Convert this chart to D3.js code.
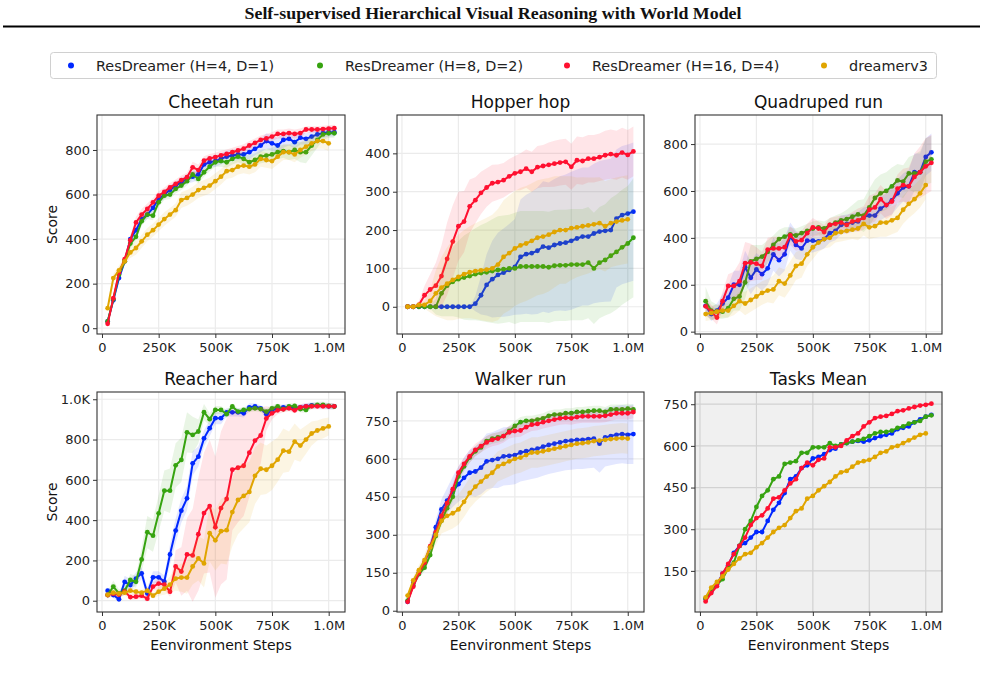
<!DOCTYPE html>
<html><head><meta charset="utf-8">
<script src="https://cdn.jsdelivr.net/npm/d3@7"></script>
<style>body{margin:0;background:#fff;} svg{display:block;font-family:"DejaVu Sans",sans-serif;}</style>
</head><body><svg id="chart" width="985" height="695"></svg>
<script>
// ---------------- DATA ----------------
const steps = [25000,50000,75000,100000,125000,150000,175000,200000,225000,250000,275000,300000,325000,350000,375000,400000,425000,450000,475000,500000,525000,550000,575000,600000,625000,650000,675000,700000,725000,750000,775000,800000,825000,850000,875000,900000,925000,950000,975000,1000000,1025000];
const seriesNames = ["ResDreamer (H=4, D=1)","ResDreamer (H=8, D=2)","ResDreamer (H=16, D=4)","dreamerv3"];
const seriesColors = ["#0028ff","#36a310","#ff1030","#e0a500"];
const panelTitles = ["Cheetah run","Hopper hop","Quadruped run","Reacher hard","Walker run","Tasks Mean"];
const xTickValues = [0,250000,500000,750000,1000000];
const xTickLabels = ["0","250K","500K","750K","1.0M"];

// Cheetah run
const cheetahBlue  = [30,125,225,300,400,440,490,510,540,580,600,620,640,655,670,680,690,735,745,750,760,770,775,780,780,790,805,820,840,830,820,845,850,835,855,850,860,870,875,880,880];
const cheetahGreen = [30,130,240,300,380,410,480,510,505,565,595,600,625,640,660,690,670,700,725,745,750,745,760,770,760,745,755,770,775,780,790,795,790,800,790,790,820,845,870,875,875];
const cheetahRed   = [20,135,250,310,395,475,510,535,565,595,612,632,648,665,678,722,710,752,762,768,776,782,790,798,806,820,832,845,852,860,872,872,876,872,876,892,892,892,894,896,898];
const cheetahGold  = [90,225,260,300,340,360,390,420,440,465,490,510,530,575,585,600,620,630,640,660,680,705,710,725,730,725,735,760,755,750,770,790,790,780,800,815,830,840,840,830];
const cheetahBlueSd  = [10,15,15,15,20,20,20,20,20,20,20,20,20,20,20,25,25,25,25,25,25,25,25,25,25,30,30,30,35,35,35,35,30,30,30,25,25,25,20,20,20];
const cheetahGreenSd = [10,15,15,15,20,20,20,20,20,20,20,20,20,20,20,20,20,20,20,20,25,25,25,25,25,30,30,30,30,30,30,30,35,40,45,50,45,35,25,20,20];
const cheetahRedSd   = [10,15,15,15,20,25,25,25,20,20,20,20,20,20,20,25,25,20,20,20,20,20,20,20,20,20,20,20,20,20,20,20,20,20,20,15,15,15,15,15,15];
const cheetahGoldSd  = [15,20,20,20,25,30,30,30,30,30,30,30,30,35,35,35,35,35,35,35,35,35,35,35,35,35,35,35,35,35,35,35,35,35,35,35,35,35,35,35];

// Hopper hop
const hopperBlue  = [0,0,0,0,0,0,0,0,0,0,0,0,8,30,57,72,83,89,96,104,130,137,140,146,157,154,161,165,167,172,178,183,183,191,196,198,200,230,239,243,248];
const hopperGreen = [0,0,0,0,0,0,35,55,65,72,76,80,85,88,90,93,96,98,100,100,105,105,105,105,105,103,107,108,108,110,110,110,115,100,115,122,133,143,155,165,180];
const hopperRed   = [0,0,5,30,45,55,80,125,170,210,222,262,278,297,311,322,325,330,340,348,352,360,352,364,367,370,373,376,378,365,382,380,386,386,390,395,398,395,402,396,405];
const hopperGold  = [0,0,5,5,15,35,50,60,70,78,85,90,93,95,97,100,110,130,140,152,160,165,172,180,183,188,195,200,200,205,207,210,212,215,218,210,218,222,225,228];
const hopperBlueSd  = [0,0,0,0,0,0,0,0,0,0,0,0,20,50,80,100,110,115,120,125,150,155,160,165,170,170,172,175,178,180,180,180,180,182,184,185,186,180,180,180,180];
const hopperGreenSd = [0,0,0,0,5,20,60,80,90,100,110,115,120,125,130,135,140,140,140,145,145,145,145,145,145,145,145,145,145,145,145,145,145,145,145,145,150,150,150,150,155];
const hopperRedSd   = [0,0,10,25,40,60,80,95,95,90,80,70,60,55,50,48,46,45,45,45,48,50,52,55,55,58,60,60,60,60,62,62,62,62,62,64,64,64,65,65,65];
const hopperGoldSd  = [0,0,5,10,30,60,80,95,105,110,115,120,125,130,135,140,145,148,150,150,150,150,150,150,150,148,145,140,140,135,130,128,125,122,120,118,115,115,115,115];

// Quadruped run
const quadBlue  = [110,75,90,120,145,200,200,275,230,265,245,270,330,305,330,405,370,355,388,388,385,395,420,430,455,460,465,470,490,495,495,525,540,560,590,615,620,680,680,745,765];
const quadGreen = [130,90,85,85,100,140,150,210,300,310,320,340,370,395,405,415,410,420,430,440,445,440,455,465,475,480,490,500,495,530,570,590,600,620,645,640,675,675,680,725,735];
const quadRed   = [108,85,60,130,195,195,215,292,295,290,280,350,355,355,360,410,385,390,420,445,440,425,455,460,465,455,470,475,485,520,530,565,540,555,610,625,620,660,680,705,720];
const quadGold  = [75,80,85,90,90,110,130,120,135,150,165,175,180,215,205,240,280,290,330,360,380,395,400,420,425,430,435,440,460,445,450,465,465,475,485,520,545,565,590,625];
const quadBlueSd  = [30,30,30,40,50,60,60,70,70,70,70,70,70,70,70,60,60,50,50,50,40,40,40,40,40,40,40,40,40,40,40,50,50,60,60,60,70,80,80,80,80];
const quadGreenSd = [60,40,30,30,40,50,60,70,70,60,50,50,40,40,40,30,30,30,30,30,30,30,30,30,30,40,50,60,70,80,80,80,80,80,70,70,70,80,90,100,100];
const quadRedSd   = [40,30,30,40,50,60,80,90,80,70,60,50,50,50,40,40,40,40,40,40,30,30,30,30,30,40,40,50,50,60,60,60,60,60,60,70,80,100,110,120,120];
const quadGoldSd  = [30,30,30,30,30,40,40,50,50,50,50,50,60,60,60,60,60,60,50,50,40,40,40,40,40,40,40,50,50,50,50,60,60,60,60,60,60,60,60,60];

// Reacher hard
const reacherBlue  = [50,28,7,94,78,110,136,36,116,116,95,230,348,447,508,682,715,806,856,906,906,935,935,935,930,960,965,955,925,945,955,960,960,955,960,965,970,968,968,965,965];
const reacherGreen = [28,70,36,50,103,94,205,340,323,434,546,546,672,699,836,823,840,936,901,947,947,926,964,939,947,951,955,951,939,955,964,951,964,967,951,947,967,972,972,967,964];
const reacherRed   = [28,35,30,45,18,20,25,10,70,85,80,45,170,145,230,225,330,435,470,365,460,505,650,660,670,735,795,820,905,930,945,950,955,945,960,965,965,965,965,965,965];
const reacherGold  = [30,40,35,40,50,45,40,50,25,45,60,80,110,115,115,170,210,185,335,300,345,350,440,500,520,540,620,655,650,670,700,745,740,790,770,800,830,845,855,865];
const reacherBlueSd  = [15,15,15,30,30,30,30,30,30,30,30,50,60,60,60,60,50,40,40,30,30,20,20,20,20,20,15,15,20,20,15,15,15,15,15,15,15,15,15,15,15];
const reacherGreenSd = [20,30,20,20,30,30,60,80,80,90,100,110,110,110,100,90,60,40,30,20,20,20,15,15,15,15,15,15,15,15,15,15,15,15,15,15,15,15,15,15,15];
const reacherRedSd   = [15,15,15,15,15,15,15,15,20,25,25,25,80,120,180,230,280,300,330,350,380,400,300,270,250,220,170,140,60,30,20,15,15,15,15,15,15,15,15,15,15];
const reacherGoldSd  = [15,15,15,15,15,15,15,15,15,20,30,40,60,70,80,90,110,120,140,150,160,170,170,170,160,150,140,130,120,120,110,110,100,90,80,70,60,50,50,45];

// Walker run
const walkerBlue  = [35,110,150,190,250,330,400,435,470,500,525,545,550,565,590,595,600,610,612,615,625,630,635,640,648,655,660,665,670,672,675,675,678,680,660,685,690,695,698,695,698];
const walkerGreen = [40,100,145,170,220,295,355,405,450,530,570,605,630,645,670,680,685,690,710,730,745,750,750,755,760,770,775,775,780,780,785,785,788,790,790,785,795,795,795,798,795];
const walkerRed   = [35,95,150,190,255,310,375,425,480,545,580,610,635,650,665,675,680,690,705,710,712,725,735,738,745,750,755,760,762,760,765,768,768,768,768,770,775,780,780,780,785];
const walkerGold  = [60,120,160,200,250,300,355,375,385,400,430,465,490,510,530,545,570,580,590,600,605,615,625,625,630,635,640,645,650,655,660,662,665,670,672,675,678,680,682,680];
const walkerBlueSd  = [10,15,20,20,25,30,40,50,60,70,80,90,100,105,110,110,115,115,115,115,115,115,115,115,115,115,115,115,115,115,115,115,115,115,115,115,115,115,115,115,118];
const walkerGreenSd = [10,10,15,15,15,20,20,20,20,20,20,20,20,20,20,20,20,20,20,20,20,20,20,20,20,20,20,20,20,20,20,20,20,20,20,20,20,20,20,20,20];
const walkerRedSd   = [10,10,15,15,20,20,25,25,25,25,25,25,25,25,25,25,25,25,25,25,25,25,25,25,25,25,25,25,25,25,25,25,25,25,25,25,25,25,25,25,25];
const walkerGoldSd  = [10,15,20,25,30,40,50,60,60,60,60,60,60,60,60,60,60,60,60,60,60,60,60,60,60,60,60,60,60,60,60,60,60,60,60,60,60,60,60,60];

// Tasks Mean
const meanBlue  = [50,75,100,140,170,215,240,250,270,290,290,330,370,395,430,480,490,520,530,555,560,570,585,590,605,610,615,618,615,620,628,635,640,645,660,665,670,685,695,705,712];
const meanGreen = [50,80,100,120,160,180,240,300,330,380,420,440,480,490,535,540,545,575,575,595,595,595,610,600,605,610,615,620,625,635,645,650,650,655,665,670,680,685,690,705,710];
const meanRed   = [40,70,95,140,175,210,240,270,315,340,350,375,410,415,440,465,480,520,540,530,550,555,595,595,600,620,635,645,670,685,700,705,708,715,725,728,735,740,745,748,752];
const meanGold  = [55,90,110,130,155,175,195,210,215,235,250,270,290,305,315,340,365,375,410,420,440,455,470,490,505,510,525,540,545,550,560,575,580,595,600,610,620,630,640,645];

// ---------------- PANELS ----------------
const panels = [
  {title: panelTitles[0], col:0, row:0, yDomain:[-26,957], yTicks:[0,200,400,600,800],
   series:[cheetahBlue,cheetahGreen,cheetahRed,cheetahGold], sd:[cheetahBlueSd,cheetahGreenSd,cheetahRedSd,cheetahGoldSd]},
  {title: panelTitles[1], col:1, row:0, yDomain:[-71,500], yTicks:[0,100,200,300,400],
   series:[hopperBlue,hopperGreen,hopperRed,hopperGold], sd:[hopperBlueSd,hopperGreenSd,hopperRedSd,hopperGoldSd]},
  {title: panelTitles[2], col:2, row:0, yDomain:[-10,924], yTicks:[0,200,400,600,800],
   series:[quadBlue,quadGreen,quadRed,quadGold], sd:[quadBlueSd,quadGreenSd,quadRedSd,quadGoldSd]},
  {title: panelTitles[3], col:0, row:1, yDomain:[-56,1036], yTicks:[0,200,400,600,800,1000],
   series:[reacherBlue,reacherGreen,reacherRed,reacherGold], sd:[reacherBlueSd,reacherGreenSd,reacherRedSd,reacherGoldSd]},
  {title: panelTitles[4], col:1, row:1, yDomain:[-5,864], yTicks:[0,150,300,450,600,750],
   series:[walkerBlue,walkerGreen,walkerRed,walkerGold], sd:[walkerBlueSd,walkerGreenSd,walkerRedSd,walkerGoldSd]},
  {title: panelTitles[5], col:2, row:1, yDomain:[2,794], yTicks:[150,300,450,600,750],
   series:[meanBlue,meanGreen,meanRed,meanGold], sd:null, shaded:true}
];

const colLeft = [97, 397, 695];
const colWidth = 248;
const rowTop = [115, 392];
const rowHeight = [219, 220];

const svg = d3.select("#chart");

// Top title & rule
svg.append("text").attr("x", 493).attr("y", 19).attr("text-anchor","middle")
  .attr("font-family","'Liberation Serif','Times New Roman',serif").attr("font-weight","bold")
  .attr("font-size", 17).attr("fill","#111")
  .attr("textLength", 497).attr("lengthAdjust","spacingAndGlyphs")
  .text("Self-supervised Hierarchical Visual Reasoning with World Model");
svg.append("line").attr("x1",3).attr("x2",980).attr("y1",26.5).attr("y2",26.5)
  .attr("stroke","#000").attr("stroke-width",2);

// Legend
const lg = svg.append("g");
lg.append("rect").attr("x",50.5).attr("y",52.5).attr("width",886).attr("height",26).attr("rx",3)
  .attr("fill","#fff").attr("stroke","#d0d0d0");
const legendDotX = [71, 320, 567, 824];
seriesNames.forEach((n,i)=>{
  lg.append("circle").attr("cx",legendDotX[i]).attr("cy",65.5).attr("r",3).attr("fill",seriesColors[i]);
  lg.append("text").attr("x",legendDotX[i]+25).attr("y",70.5).attr("font-size",14.4).attr("fill","#222").text(n);
});

const fmtY = d => d >= 1000 ? (d/1000).toFixed(1)+"K" : String(d);

panels.forEach((p, pi) => {
  const x0 = colLeft[p.col], y0 = rowTop[p.row], h = rowHeight[p.row], w = colWidth - (p.col>0?1:0);
  const x = d3.scaleLinear().domain([-22000, 1072000]).range([0, w]);
  const y = d3.scaleLinear().domain(p.yDomain).range([h, 0]);
  const g = svg.append("g").attr("transform", `translate(${x0},${y0})`);

  g.append("rect").attr("width", w).attr("height", h).attr("fill", p.shaded ? "#f0f0f0" : "#fff");
  const gridColor = p.shaded ? "#d2d2d2" : "#ebebeb";
  g.selectAll(".gx").data(xTickValues).join("line")
    .attr("x1", d=>x(d)).attr("x2", d=>x(d)).attr("y1",0).attr("y2",h)
    .attr("stroke", gridColor).attr("stroke-width",1.2);
  g.selectAll(".gy").data(p.yTicks).join("line")
    .attr("y1", d=>y(d)).attr("y2", d=>y(d)).attr("x1",0).attr("x2",w)
    .attr("stroke", gridColor).attr("stroke-width",1.2);

  const clipId = "clip"+pi;
  g.append("clipPath").attr("id", clipId).append("rect").attr("width", w).attr("height", h);
  const plot = g.append("g").attr("clip-path", `url(#${clipId})`);

  p.series.forEach((vals, si) => {
    const pts = vals.map((v,i)=>({x: steps[i], y: v, s: p.sd ? p.sd[si][i] : 0}));
    if (p.sd) {
      const area = d3.area().x(d=>x(d.x)).y0(d=>y(d.y - d.s)).y1(d=>y(d.y + d.s));
      plot.append("path").datum(pts).attr("d", area)
        .attr("fill", seriesColors[si]).attr("fill-opacity", 0.11).attr("stroke","none");
    }
    const line = d3.line().x(d=>x(d.x)).y(d=>y(d.y));
    plot.append("path").datum(pts).attr("d", line)
      .attr("fill","none").attr("stroke", seriesColors[si]).attr("stroke-width", 2);
    plot.selectAll(null).data(pts).join("circle")
      .attr("cx", d=>x(d.x)).attr("cy", d=>y(d.y)).attr("r", 2.4).attr("fill", seriesColors[si]);
  });

  // frame
  g.append("rect").attr("width", w).attr("height", h).attr("fill","none")
    .attr("stroke","#333").attr("stroke-width",1.1);

  // axes
  const ax = g.append("g").attr("transform", `translate(0,${h})`)
    .call(d3.axisBottom(x).tickValues(xTickValues).tickFormat((d,i)=>xTickLabels[i]).tickSize(4).tickPadding(5));
  const ay = g.append("g")
    .call(d3.axisLeft(y).tickValues(p.yTicks).tickFormat(fmtY).tickSize(4).tickPadding(3));
  [ax, ay].forEach(a => {
    a.select(".domain").remove();
    a.selectAll("line").attr("stroke","#333");
    a.selectAll("text").attr("font-size",13).attr("fill","#222").attr("font-family","'DejaVu Sans',sans-serif");
  });

  // title
  g.append("text").attr("x", w/2).attr("y", -7).attr("text-anchor","middle")
    .attr("font-size",17).attr("fill","#111").text(p.title);

  if (p.col === 0) {
    g.append("text").attr("transform", `translate(-40,${h/2}) rotate(-90)`).attr("text-anchor","middle")
      .attr("font-size",14).attr("fill","#111").text("Score");
  }
  if (p.row === 1) {
    g.append("text").attr("x", w/2).attr("y", h+38).attr("text-anchor","middle")
      .attr("font-size",14).attr("fill","#111").text("Eenvironment Steps");
  }
});
</script>
</body></html>
